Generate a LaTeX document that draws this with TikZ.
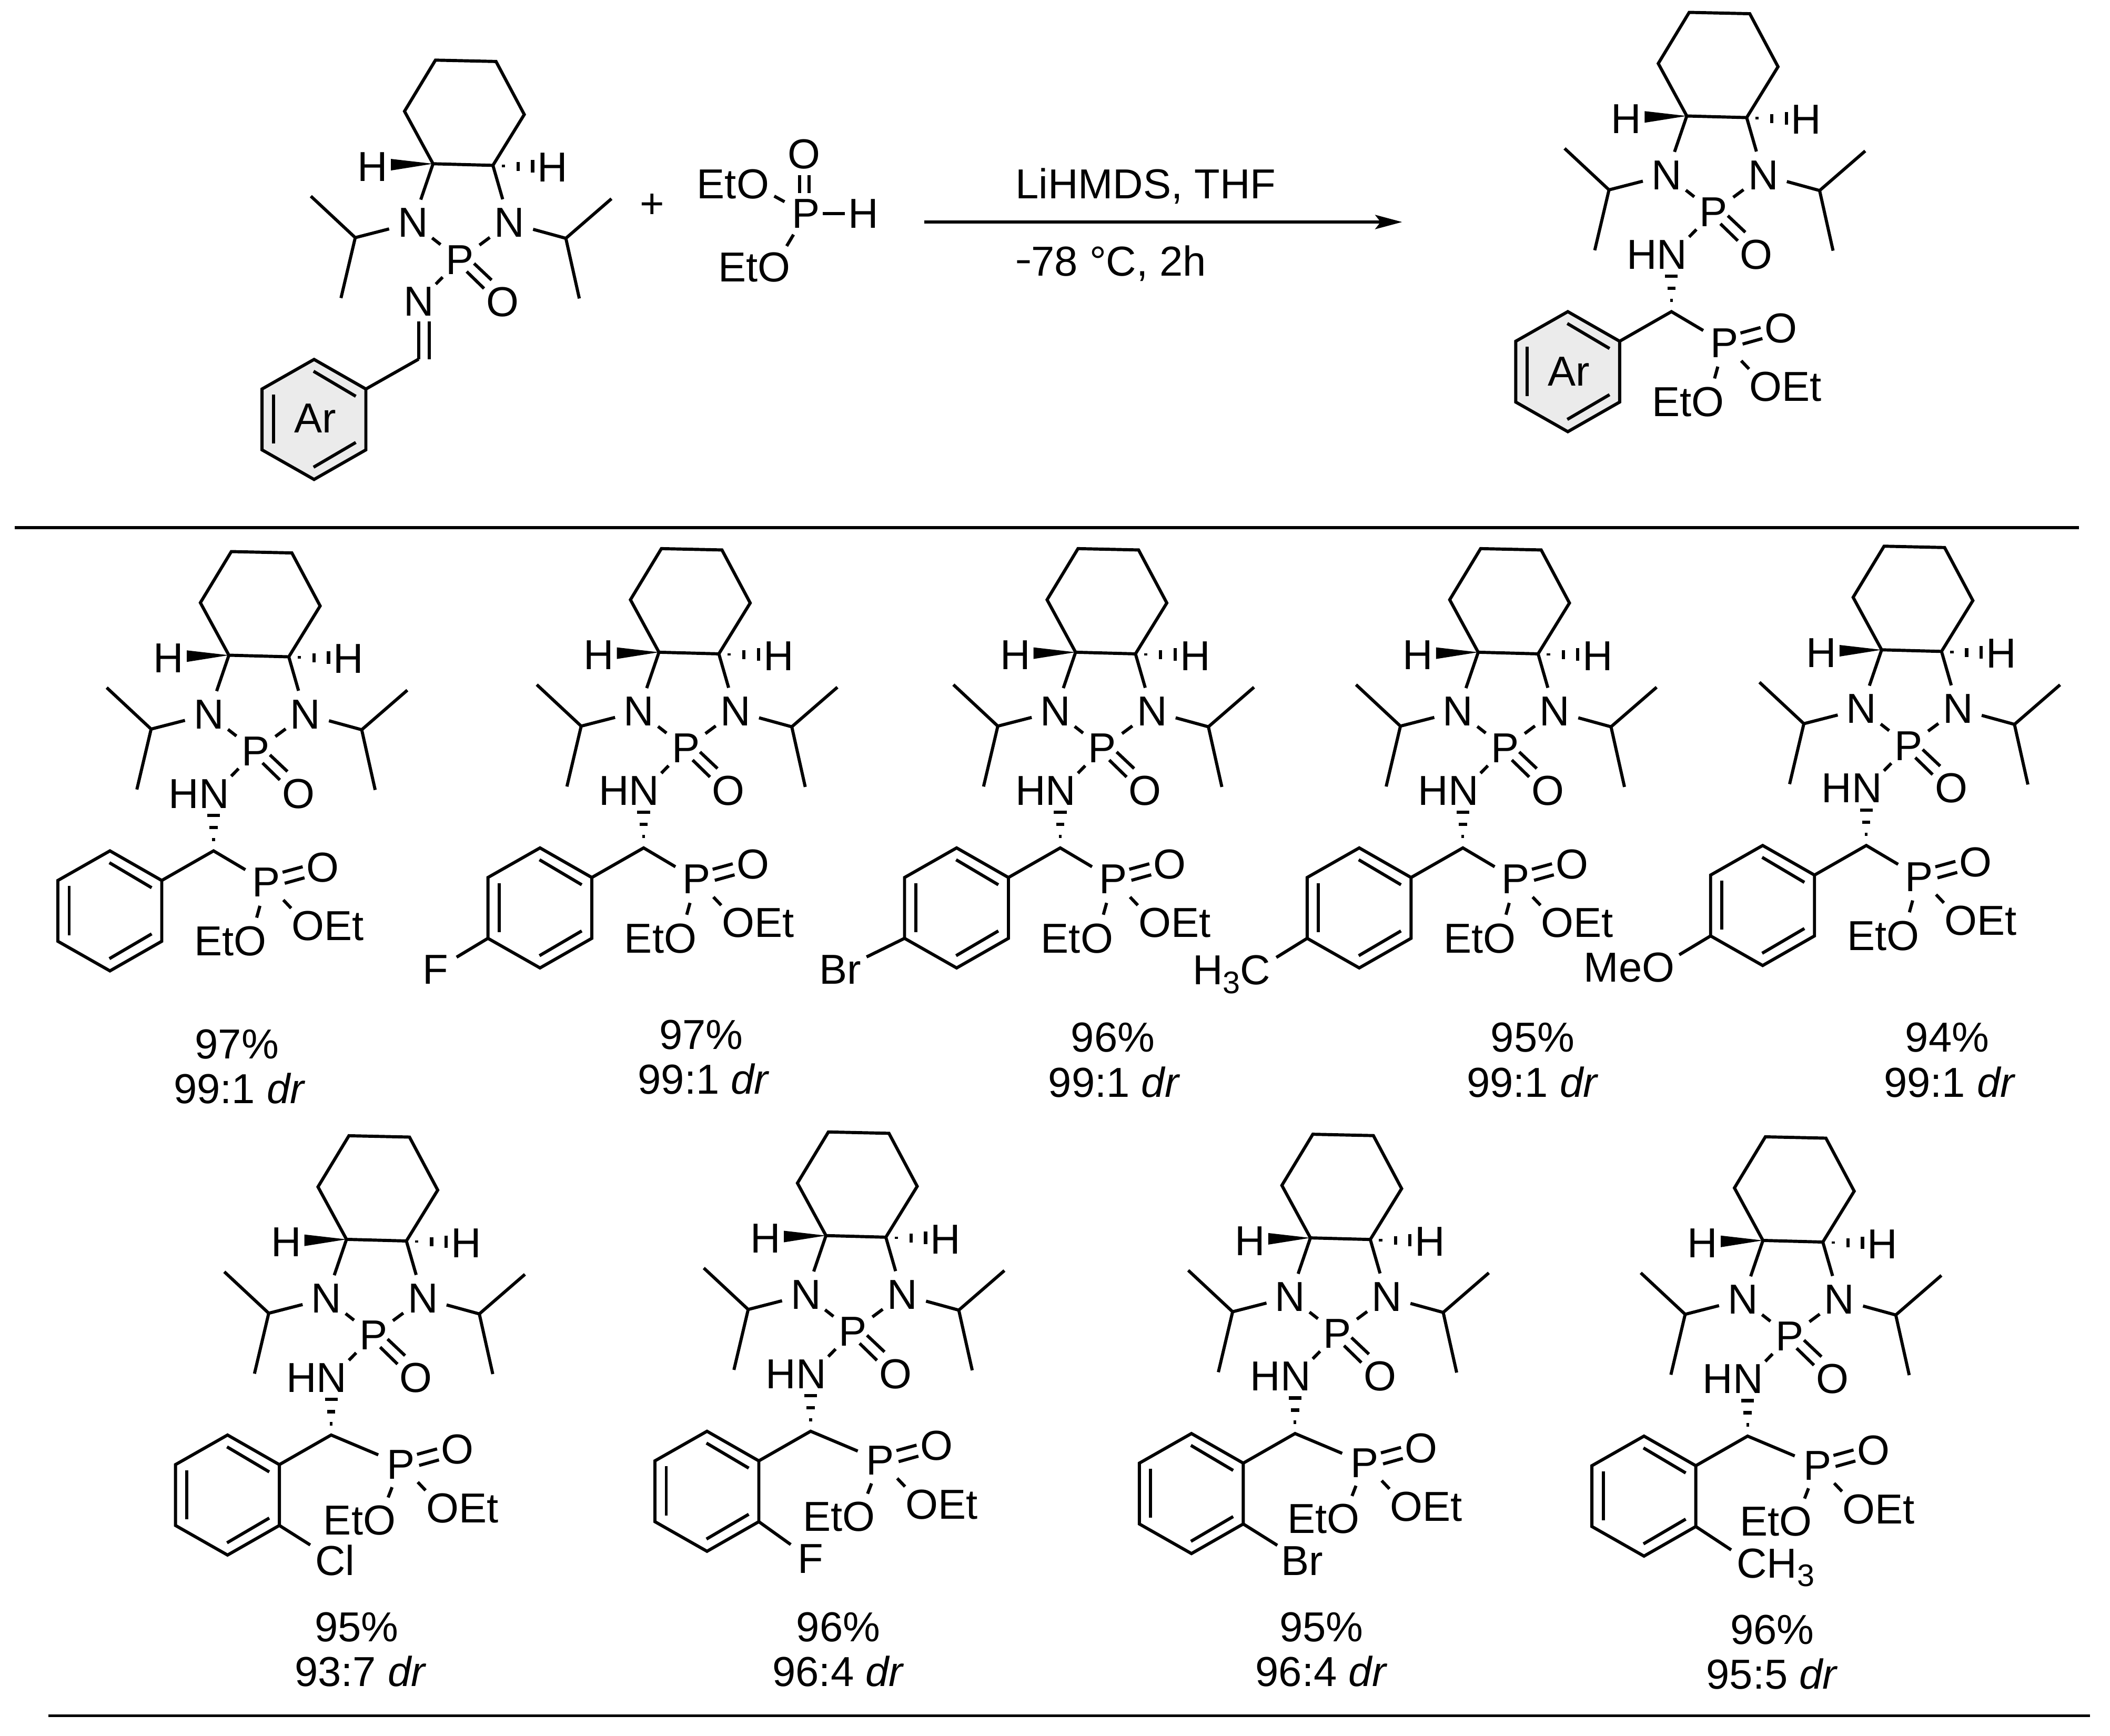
\documentclass[tikz,border=0pt]{standalone}
\usepackage{fontspec}
\setmainfont{Liberation Sans}
\usetikzlibrary{arrows.meta}
\newcommand\chemfont{\fontsize{8.85}{10.6}\selectfont}
\newcommand\subthree{\smash{\raisebox{-1.85pt}{\fontsize{6.6}{7}\selectfont 3}}}
\newcommand\setarm[4]{\def\armdx{#1}\def\armdy{#2}\def\armex{#3}\def\armey{#4}}
\setarm{0}{0}{15.8}{212.6}
\tikzset{
  bond/.style={line width=0.66pt,black},
  rule/.style={line width=0.66pt,black},
  hashbar/.style={line width=0.7pt,black},
  atom/.style={circle,inner sep=0pt,minimum size=0.35cm,font=\chemfont,text=black},
  atomwide/.style={atom,minimum size=0.42cm},
  label/.style={inner sep=0pt,font=\chemfont,text=black},
}
% --- common diazaphospholidine core; origin = left ring-fusion carbon
\newcommand\corepart{%
  \coordinate (c1) at (0,0);
  \coordinate (c2) at (44.5,1.2);
  \coordinate (c3) at (67.8,-36.6);
  \coordinate (c4) at (46.8,-76);
  \coordinate (c5) at (1.8,-77);
  \coordinate (c6) at (-21.2,-39);
  \node[atom] (hl) at (-44.9,2.2) {H};
  \node[atom] (hr) at (88.8,2.7) {H};
  \node[atom] (nl) at (-15,43.9) {N};
  \node[atom] (nr) at (56.8,43.9) {N};
  \node[atom] (p) at (19.9,71.3) {P};
  \node[atom] (o) at (51.7,102.9) {O};
  \coordinate (il) at (-57.8,54.9);
  \coordinate (il1) at (-90.8,24.1);
  \coordinate (il2) at (-68.4,99.8);
  \coordinate (ir) at (98.7,55.4);
  \coordinate (ir1) at (132.6,26);
  \coordinate (ir2) at (108.7,100.1);
  \coordinate (da1) at (25,80.1);
  \coordinate (da2) at (37.9,92.7);
  \coordinate (db1) at (30.5,74.1);
  \coordinate (db2) at (43.5,86.4);
  \draw[bond] (c1)--(c2)--(c3)--(c4)--(c5)--(c6)--cycle;
  \fill[black] (c1)--(-31.3,-3.6)--(-31.3,5)--cycle;
  \draw[hashbar] (52.2,0.7)--(52.2,2.5) (63.2,-1.4)--(63.2,5.2) (74,-2.9)--(74,6.4);
  \draw[bond] (c1)--(nl);
  \draw[bond] (c2)--(nr);
  \draw[bond] (nl)--(il)--(il1);
  \draw[bond] (il)--(il2);
  \draw[bond] (nr)--(ir)--(ir1);
  \draw[bond] (ir)--(ir2);
  \draw[bond] (nl)--(p);
  \draw[bond] (nr)--(p);
  \draw[bond] (da1)--(da2);
  \draw[bond] (db1)--(db2);
}
% --- benzene ring; #1 = fill colour
\newcommand\ringpart[1]{%
  \coordinate (r1) at (-49.9,167.4);
  \coordinate (r2) at (-88.4,145.4);
  \coordinate (r3) at (-127.1,167.4);
  \coordinate (r4) at (-127.1,212.6);
  \coordinate (r5) at (-88.4,234.6);
  \coordinate (r6) at (-49.9,212.6);
  \coordinate (i1a) at (-88.8,154.2);
  \coordinate (i1b) at (-57.4,172.8);
  \coordinate (i2a) at (-118.7,171.5);
  \coordinate (i2b) at (-118.7,208);
  \coordinate (i3a) at (-88.8,225.5);
  \coordinate (i3b) at (-57.4,207.1);
  \draw[bond,fill=#1] (r1)--(r2)--(r3)--(r4)--(r5)--(r6)--cycle;
  \draw[bond] (i1a)--(i1b);
  \draw[bond] (i2a)--(i2b);
  \draw[bond] (i3a)--(i3b);
}
% --- NH-CH-P(O)(OEt)2 arm
\newcommand\armpart{%
  \node[atom] (nh) at (-11,102.9) {\llap{H}N};
  \coordinate (ch) at (-11.4,145.4);
  \node[atom] (eo) at (\armex,\armey) {\llap{Et}O};
  \begin{scope}[shift={(\armdx,\armdy)}]
  \node[atom] (p2) at (27.9,168.7) {P};
  \node[atom] (o2) at (69.8,157.7) {O};
  \node[atom] (oe) at (58.8,201.2) {O\rlap{Et}};
  \coordinate (ea1) at (39.9,161.3);
  \coordinate (ea2) at (54.8,157.2);
  \coordinate (eb1) at (41.5,169.5);
  \coordinate (eb2) at (56.2,165.4);
  \end{scope}
  \draw[bond] (p)--(nh);
  \draw[hashbar] (-16.1,119)--(-6.7,119) (-14.4,128)--(-8.4,128) (-12.4,137)--(-10.4,137);
  \draw[bond] (r1)--(ch)--(p2);
  \draw[bond] (p2)--(oe);
  \draw[bond] (p2)--(eo);
  \draw[bond] (ea1)--(ea2);
  \draw[bond] (eb1)--(eb2);
}
% #1 prefix, #2 x, #3 y, #4 ring fill, #5 extra
\newcommand\product[5]{%
  \begin{scope}[shift={(#2,#3)},name prefix=#1-]
    \corepart
    \ringpart{#4}
    \armpart
    #5
  \end{scope}%
}
\newcommand\yield[6]{%
  \node[label] (#1a) at (#2,#4) {#5};
  \node[label] (#1b) at (#3,#4+33) {#6};
}
\begin{document}
\begin{tikzpicture}[x=0.01cm,y=-0.01cm]
\useasboundingbox (0,0) rectangle (1568,1289.7);
\fill[white] (0,0) rectangle (1568,1289.7);

% reactant imine
\begin{scope}[shift={(321.8,121.7)},name prefix=im-]
  \corepart
  \ringpart{black!8}
  \node[atom] (ni) at (-10.7,102.4) {N};
  \node[label] (ar) at (-87.5,189) {Ar};
  \coordinate (cn) at (-10.7,145.2);
  \coordinate (dn1) at (-10.7,117);
  \coordinate (dn2) at (-2.9,117);
  \coordinate (dn3) at (-2.9,145.2);
  \draw[bond] (p)--(ni);
  \draw[bond] (dn1)--(cn);
  \draw[bond] (dn2)--(dn3);
  \draw[bond] (cn)--(r1);
\end{scope}

% plus and phosphite
\node[label] (plus) at (484.5,153) {+};
\node[atom] (hpP) at (599,158.7) {P};
\node[atom] (hpH) at (641.7,158.7) {H};
\node[atom] (hpO) at (597.4,114.7) {O};
\node[atom] (hpE1) at (559.4,137) {\llap{Et}O};
\node[atom] (hpE2) at (575.3,198.5) {\llap{Et}O};
\coordinate (hpd1) at (594.1,130);
\coordinate (hpd2) at (594.1,143.5);
\coordinate (hpd3) at (601.3,130);
\coordinate (hpd4) at (601.3,143.5);
\draw[bond] (hpd1)--(hpd2);
\draw[bond] (hpd3)--(hpd4);
\draw[bond,shorten <=-0.06cm,shorten >=-0.045cm] (hpP)--(hpH);
\draw[bond] (hpE1)--(hpP);
\draw[bond] (hpE2)--(hpP);

% arrow
\coordinate (arS) at (687,165);
\coordinate (arE) at (1042,165);
\draw[rule,-{Stealth[length=0.2cm,width=0.105cm,inset=0.04cm]}] (arS)--(arE);
\node[label] (cond1) at (851.4,138.2) {LiHMDS, THF};
\node[label] (cond2) at (825.8,195.9) {\scalebox{0.62}[1]{−}78 °C, 2h};

% top product
\product{tp}{1253.5}{86.2}{black!8}{\node[label] (ar) at (-87.8,190) {Ar};}

% rule 1
\coordinate (l1a) at (11,392);
\coordinate (l1b) at (1545,392);
\draw[rule] (l1a)--(l1b);

% first row
\product{a}{170.1}{486.9}{none}{}
\product{b}{489.7}{484.7}{none}{\node[atom] (x) at (-166,236) {F}; \draw[bond] (r4)--(x);}
\product{c}{799.3}{484.7}{none}{\node[atomwide] (x) at (-174.8,236) {Br}; \draw[bond] (r4)--(x);}
\product{d}{1098.5}{484.7}{none}{\node[atom] (x) at (-165.5,236.4) {\llap{\smash{H\subthree}}C}; \draw[bond] (r4)--(x);}
\product{e}{1398.3}{482.9}{none}{\node[atom] (x) at (-166,236) {\llap{Me}O}; \draw[bond] (r4)--(x);}

\yield{ya}{176}{178}{776}{97\%}{99:1 \textit{dr}}
\yield{yb}{521}{523}{769}{97\%}{99:1 \textit{dr}}
\yield{yc}{827}{828}{771}{96\%}{99:1 \textit{dr}}
\yield{yd}{1139}{1139}{771}{95\%}{99:1 \textit{dr}}
\yield{ye}{1447}{1449}{771}{94\%}{99:1 \textit{dr}}

% second row: phosphonate arm sits further right
\setarm{12.5}{-1.5}{24.4}{208.8}
\product{f}{257.5}{921}{none}{\node[atomwide] (x) at (-8.6,238.7) {Cl}; \draw[bond] (r6)--(x);}
\product{g}{613.8}{918.2}{none}{\node[atom] (x) at (-11.4,240.2) {F}; \draw[bond] (r6)--(x);}
\product{h}{973.8}{919.9}{none}{\node[atomwide] (x) at (-6.2,240) {Br}; \draw[bond] (r6)--(x);}
\product{i}{1310.1}{921.8}{none}{\node[atom] (x) at (-8.4,240) {C\rlap{\smash{H\subthree}}}; \draw[bond] (r6)--(x);}

\yield{yf}{265}{268}{1209}{95\%}{93:7 \textit{dr}}
\yield{yg}{623}{623}{1209}{96\%}{96:4 \textit{dr}}
\yield{yh}{982}{982}{1209}{95\%}{96:4 \textit{dr}}
\yield{yi}{1317}{1317}{1211}{96\%}{95:5 \textit{dr}}

% rule 2
\coordinate (l2a) at (36,1275);
\coordinate (l2b) at (1553,1275);
\draw[rule] (l2a)--(l2b);
\end{tikzpicture}
\end{document}
